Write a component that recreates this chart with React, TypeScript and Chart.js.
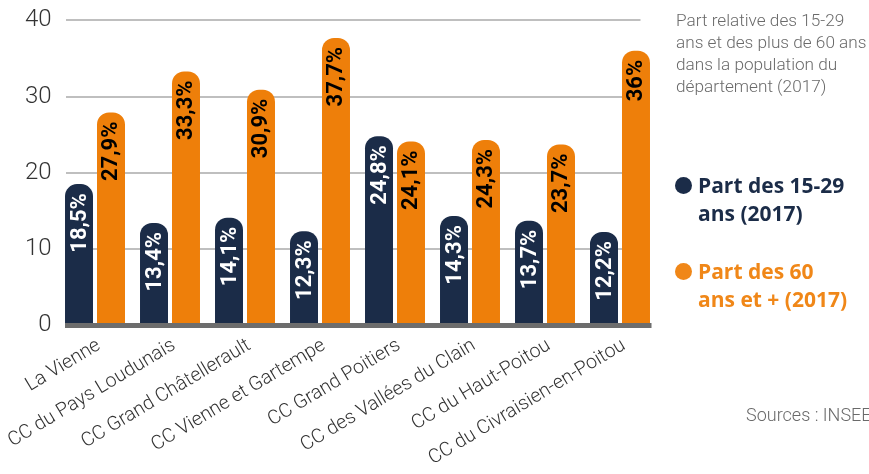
import React, { useEffect, useRef } from "react";
import { Chart, registerables } from "chart.js";

Chart.register(...registerables);

const categories = [
  "La Vienne",
  "CC du Pays Loudunais",
  "CC Grand Châtellerault",
  "CC Vienne et Gartempe",
  "CC Grand Poitiers",
  "CC des Vallées du Clain",
  "CC du Haut-Poitou",
  "CC du Civraisien-en-Poitou",
];
const part1529 = [18.5, 13.4, 14.1, 12.3, 24.8, 14.3, 13.7, 12.2];
const part60plus = [27.9, 33.3, 30.9, 37.7, 24.1, 24.3, 23.7, 36];
const yTicks = [0, 10, 20, 30, 40];

const NAVY = "#1b2c48";
const ORANGE = "#ee7f0a";
const ORANGE_TXT = "#f08718";

const fmt = (v: number) => String(v).replace(".", ",") + "%";

const decorPlugin = {
  id: "decor",
  beforeDatasetsDraw(chart: any) {
    const { ctx, chartArea, scales } = chart;
    const y = scales.y;
    ctx.save();
    ctx.strokeStyle = "#bfbfbf";
    ctx.lineWidth = 2;
    yTicks.forEach((t) => {
      if (t === 0) return;
      const py = Math.round(y.getPixelForValue(t));
      ctx.beginPath();
      ctx.moveTo(chartArea.left + 8.5, py);
      ctx.lineTo(chartArea.right - 17, py);
      ctx.stroke();
    });
    ctx.restore();
  },
  afterDatasetsDraw(chart: any) {
    const { ctx, chartArea, scales } = chart;
    const y0 = scales.y.getPixelForValue(0);
    ctx.save();
    ctx.fillStyle = "#6d6d6d";
    ctx.fillRect(chartArea.left + 7.5, y0 - 2, chartArea.right - 6 - (chartArea.left + 7.5), 5);
    chart.data.datasets.forEach((ds: any, di: number) => {
      const meta = chart.getDatasetMeta(di);
      meta.data.forEach((el: any, i: number) => {
        const v = ds.data[i];
        ctx.save();
        ctx.translate(el.x, el.y + 9);
        ctx.rotate(-Math.PI / 2);
        ctx.textAlign = "right";
        ctx.textBaseline = "middle";
        ctx.font = "bold 22px Roboto";
        ctx.fillStyle = di === 0 ? "#ffffff" : "#000000";
        ctx.fillText(fmt(v), 0, 1);
        ctx.restore();
      });
    });
    ctx.restore();
  },
};

export default function App() {
  const ref = useRef<HTMLCanvasElement>(null);

  useEffect(() => {
    if (!ref.current) return;
    const chart = new Chart(ref.current, {
      type: "bar",
      data: {
        labels: categories,
        datasets: [
          {
            label: "Part des 15-29 ans (2017)",
            data: part1529,
            backgroundColor: NAVY,
            borderRadius: { topLeft: 12, topRight: 12, bottomLeft: 0, bottomRight: 0 },
            borderSkipped: false,
            categoryPercentage: 0.853,
            barPercentage: 0.875,
          },
          {
            label: "Part des 60 ans et + (2017)",
            data: part60plus,
            backgroundColor: ORANGE,
            borderRadius: { topLeft: 12, topRight: 12, bottomLeft: 0, bottomRight: 0 },
            borderSkipped: false,
            categoryPercentage: 0.853,
            barPercentage: 0.875,
          },
        ],
      },
      options: {
        responsive: false,
        animation: false,
        layout: { padding: { left: 0, right: 211.5, top: 16, bottom: 0 } },
        plugins: {
          legend: { display: false },
          tooltip: { enabled: false },
        },
        scales: {
          x: {
            grid: { display: false, drawTicks: false },
            border: { display: false },
            ticks: {
              autoSkip: false,
              maxRotation: 31,
              minRotation: 31,
              padding: 9,
              labelOffset: 4,
              color: "#333333",
              font: { family: "Roboto", size: 19.5, weight: 300 },
            },
            afterFit: (s: any) => {
              s.height = 149;
            },
          },
          y: {
            min: 0,
            max: 40,
            grid: { display: false, drawTicks: false },
            border: { display: false },
            ticks: {
              stepSize: 10,
              padding: 6,
              color: "#333333",
              font: { family: "Roboto", size: 24, weight: 300 },
            },
            afterFit: (s: any) => {
              s.width = 57.5;
            },
          },
        },
      },
      plugins: [decorPlugin],
    });
    return () => chart.destroy();
  }, []);

  return (
    <div
      style={{
        position: "fixed",
        left: 0,
        top: 0,
        width: 869,
        height: 474,
        overflow: "hidden",
        background: "#ffffff",
      }}
    >
      <canvas ref={ref} width={869} height={474} style={{ position: "absolute", left: 0, top: 0 }} />
      <div
        style={{
          position: "absolute",
          left: 676,
          top: 9,
          width: 200,
          fontFamily: "Roboto",
          fontWeight: 300,
          fontSize: 17.2,
          lineHeight: "22px",
          color: "#6a6a6a",
          whiteSpace: "nowrap",
        }}
      >
        Part relative des 15-29
        <br />
        ans et des plus de 60 ans
        <br />
        dans la population du
        <br />
        département (2017)
      </div>
      <div
        style={{
          position: "absolute",
          left: 675,
          top: 177,
          width: 17,
          height: 17,
          borderRadius: "50%",
          background: NAVY,
        }}
      />
      <div
        style={{
          position: "absolute",
          left: 698,
          top: 171,
          fontFamily: "Open Sans",
          fontWeight: 700,
          fontSize: 21,
          lineHeight: "28px",
          color: NAVY,
          whiteSpace: "nowrap",
        }}
      >
        Part des 15-29
        <br />
        ans (2017)
      </div>
      <div
        style={{
          position: "absolute",
          left: 675,
          top: 263,
          width: 17,
          height: 17,
          borderRadius: "50%",
          background: ORANGE_TXT,
        }}
      />
      <div
        style={{
          position: "absolute",
          left: 698,
          top: 257,
          fontFamily: "Open Sans",
          fontWeight: 700,
          fontSize: 21,
          lineHeight: "28px",
          color: ORANGE_TXT,
          whiteSpace: "nowrap",
        }}
      >
        Part des 60
        <br />
        ans et + (2017)
      </div>
      <div
        style={{
          position: "absolute",
          left: 746,
          top: 404,
          fontFamily: "Roboto",
          fontWeight: 300,
          fontSize: 18,
          color: "#6a6a6a",
          whiteSpace: "nowrap",
        }}
      >
        Sources : INSEE
      </div>
    </div>
  );
}
